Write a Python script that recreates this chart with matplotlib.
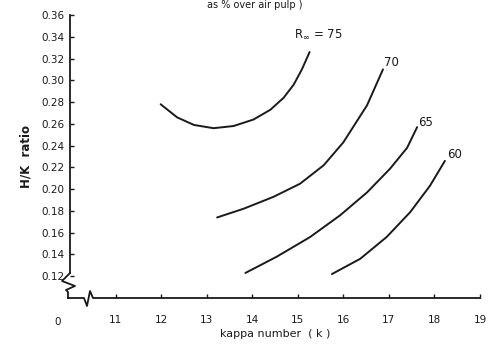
import matplotlib
matplotlib.use("Agg")
import matplotlib.pyplot as plt
from matplotlib.lines import Line2D

# Data (kappa number vs H/K ratio), per R-infinity level
k_75 = [11.99, 12.35, 12.72, 13.15, 13.59, 14.03, 14.40, 14.69, 14.91, 15.09, 15.26]
hk_75 = [0.278, 0.266, 0.259, 0.256, 0.258, 0.264, 0.273, 0.284, 0.296, 0.310, 0.326]

k_70 = [13.23, 13.81, 14.47, 15.05, 15.57, 16.00, 16.52, 16.87]
hk_70 = [0.174, 0.182, 0.193, 0.205, 0.222, 0.243, 0.277, 0.310]

k_65 = [13.85, 14.54, 15.27, 15.93, 16.52, 17.03, 17.40, 17.62]
hk_65 = [0.123, 0.138, 0.156, 0.176, 0.197, 0.219, 0.238, 0.257]

k_60 = [15.75, 16.37, 16.95, 17.47, 17.90, 18.23]
hk_60 = [0.122, 0.136, 0.156, 0.179, 0.203, 0.226]

series = [(k_75, hk_75), (k_70, hk_70), (k_65, hk_65), (k_60, hk_60)]
curve_labels = [r"R$_{\infty}$ = 75", "70", "65", "60"]
label_pos = [(15.45, 0.342), (17.05, 0.316), (17.8, 0.261), (18.45, 0.232)]

x_ticks = [11, 12, 13, 14, 15, 16, 17, 18, 19]
y_ticks = [0.12, 0.14, 0.16, 0.18, 0.20, 0.22, 0.24, 0.26, 0.28, 0.30, 0.32, 0.34, 0.36]

ink = "#1a1a1a"
plt.rcParams["font.family"] = ["DejaVu Sans"]

fig = plt.figure(figsize=(4.92, 3.51), dpi=100)
ax = fig.add_axes([70/492, 1-298/351, 410/492, 283/351])
ax.set_xlim(10, 19)
ax.set_ylim(0.10, 0.36)

for (xs, ys) in series:
    ax.plot(xs, ys, color=ink, lw=1.4, solid_capstyle="round", solid_joinstyle="round")

for lab, (lx, ly) in zip(curve_labels, label_pos):
    ax.text(lx, ly, lab, fontsize=8.5, color=ink, ha="center", va="center")

for s in ax.spines.values():
    s.set_visible(False)

ax.set_xticks(x_ticks)
ax.set_xticklabels([str(t) for t in x_ticks])
ax.set_yticks(y_ticks)
ax.set_yticklabels([f"{t:.2f}" for t in y_ticks])
ax.tick_params(direction="in", length=3, width=1, colors=ink, labelsize=7.5, pad=4)
ax.tick_params(axis="x", pad=12)

# axis lines with breaks (axes-fraction coordinates)
tr = ax.transAxes
fy = lambda py: (298 - py) / 283
fx = lambda px: (px - 70) / 410
ax.add_line(Line2D([0, 0], [fy(15), fy(273)], transform=tr, color=ink, lw=1.3, clip_on=False))
ax.add_line(Line2D([0, fx(62), fx(75), fx(66), fx(68), fx(68)],
                   [fy(273), fy(281), fy(286), fy(290), fy(292), fy(298)],
                   transform=tr, color=ink, lw=1.3, clip_on=False))
ax.add_line(Line2D([fx(68), fx(84), fx(87), fx(90), fx(93), 1.0],
                   [0, 0, fy(306), fy(291), 0, 0],
                   transform=tr, color=ink, lw=1.3, clip_on=False))

ax.text(fx(58), fy(322), "0", transform=tr, fontsize=7.5, color=ink, ha="center", va="center")

ax.set_xlabel("kappa number  ( k )", fontsize=8, color=ink, labelpad=3)
ax.set_ylabel("H/K  ratio", fontsize=8.5, color=ink, fontweight="bold", labelpad=6)

fig.text(255/492, 1.0 - 0.5/351, "as % over air pulp )", fontsize=7, color=ink, ha="center", va="top")

fig.savefig("out.png", dpi=100, facecolor="white")
